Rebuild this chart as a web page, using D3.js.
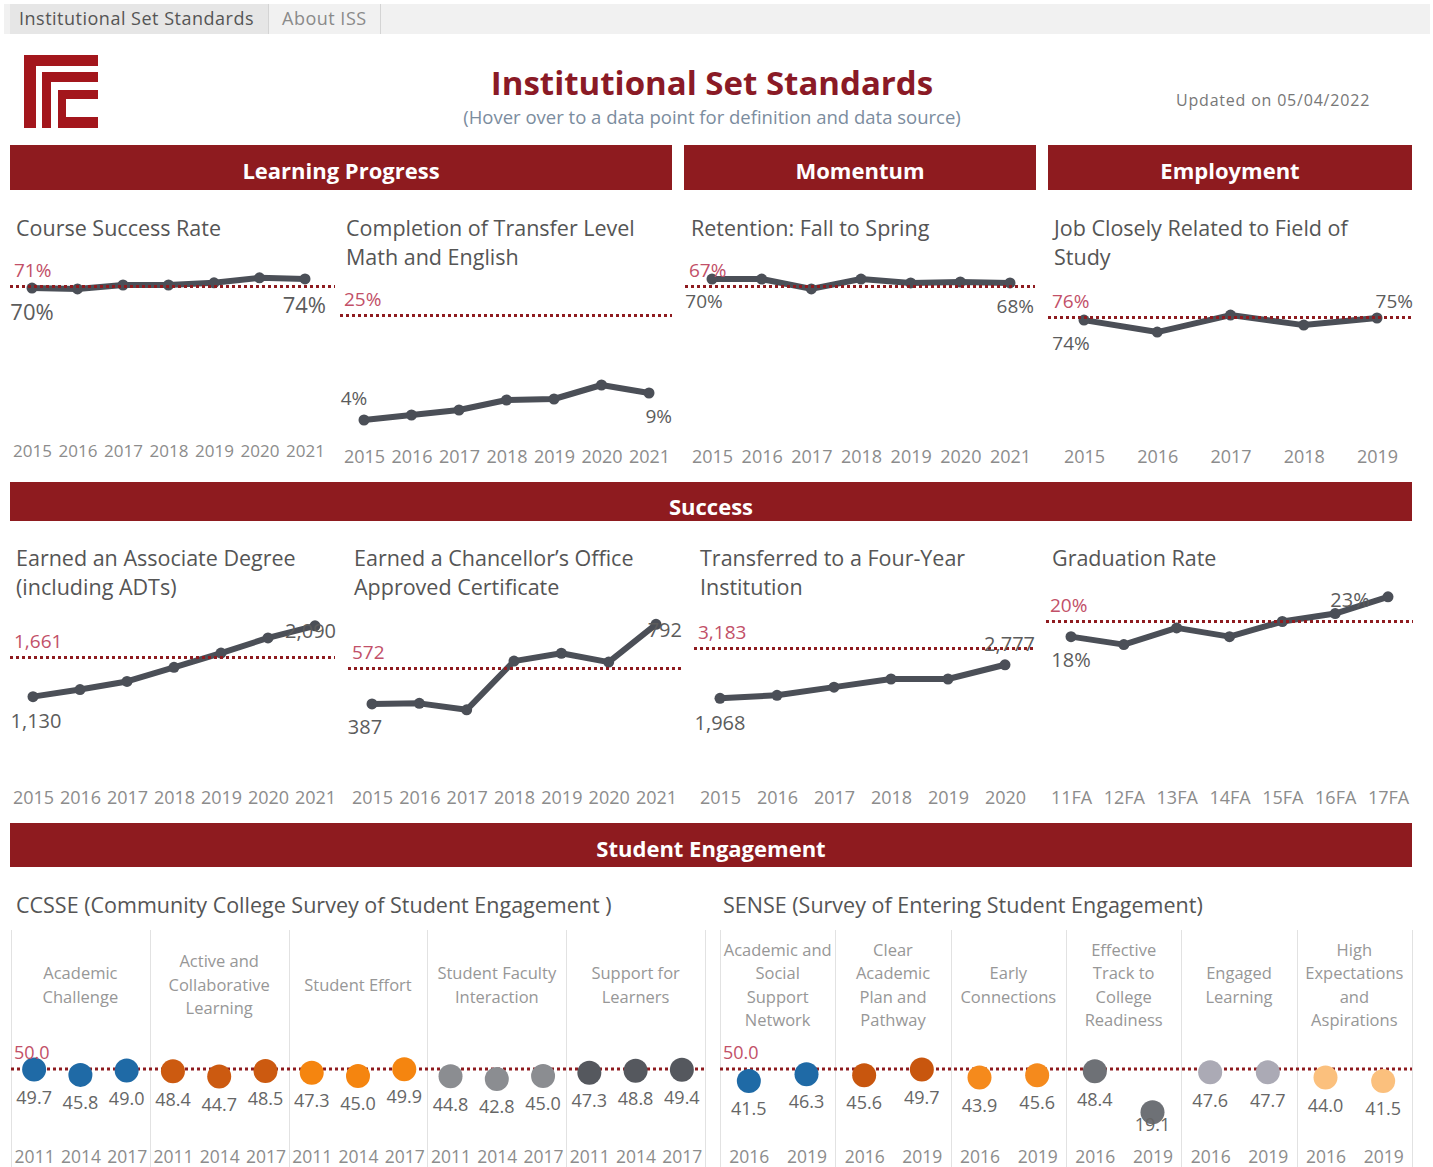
<!DOCTYPE html>
<html>
<head>
<meta charset="utf-8">
<script src="https://cdn.jsdelivr.net/npm/d3@7"></script>
<style>
body { margin: 0; background: #fff; }
svg { display: block; font-family: "Open Sans", sans-serif; }
</style>
</head>
<body>
<script>
// ---------- data ----------
const years7 = ["2015", "2016", "2017", "2018", "2019", "2020", "2021"]
const years6 = ["2015", "2016", "2017", "2018", "2019", "2020"]
const years5 = ["2015", "2016", "2017", "2018", "2019"]
const gradTerms = ["11FA", "12FA", "13FA", "14FA", "15FA", "16FA", "17FA"]

const courseSuccess = [0.700, 0.696, 0.714, 0.714, 0.724, 0.747, 0.742]
const transferMathEng = [0.04, 0.05, 0.06, 0.08, 0.082, 0.11, 0.094]
const retention = [0.70, 0.70, 0.657, 0.70, 0.683, 0.687, 0.683]
const jobRelated = [0.741, 0.667, 0.772, 0.71, 0.754]

const assocDegrees = [1130, 1226, 1336, 1528, 1720, 1926, 2090]
const certificates = [387, 390, 357, 605, 645, 600, 792]
const transfers = [1968, 2042, 2238, 2434, 2434, 2777]
const gradRate = [0.18, 0.17, 0.191, 0.18, 0.199, 0.209, 0.23]

// institution-set standards
const stdCourseSuccess = 0.71
const stdTransferMathEng = 0.25
const stdRetention = 0.67
const stdJobRelated = 0.76
const stdAssoc = 1661
const stdCert = 572
const stdTransfer = 3183
const stdGrad = 0.20

const ccsseYears = ["2011", "2014", "2017"]
const ccsseCats = ["Academic Challenge", "Active and Collaborative Learning", "Student Effort",
                   "Student Faculty Interaction", "Support for Learners"]
const ccsseValues = [
	[49.7, 45.8, 49.0],
	[48.4, 44.7, 48.5],
	[47.3, 45.0, 49.9],
	[44.8, 42.8, 45.0],
	[47.3, 48.8, 49.4]
]
const senseYears = ["2016", "2019"]
const senseCats = ["Academic and Social Support Network", "Clear Academic Plan and Pathway",
                   "Early Connections", "Effective Track to College Readiness",
                   "Engaged Learning", "High Expectations and Aspirations"]
const senseValues = [
	[41.5, 46.3],
	[45.6, 49.7],
	[43.9, 45.6],
	[48.4, 19.1],
	[47.6, 47.7],
	[44.0, 41.5]
]
const surveyStandard = 50.0

// ---------- styles ----------
const RED = "#8e1b1f"
const STD_TXT = "#c25068"
const LINE_C = "#4b4f57"
const TITLE_SIZE = 21.5
const pctFmt = d3.format(".0%")
const numFmt = d3.format(",")

var svg = d3.select("body").append("svg")
	.attr("width", 1433)
	.attr("height", 1167)

// tab bar
svg.append("rect").attr("x", 4).attr("y", 4).attr("width", 1426).attr("height", 30).attr("fill", "#f1f1f1")
svg.append("rect").attr("x", 10).attr("y", 4).attr("width", 258).attr("height", 30).attr("fill", "#e6e6e6")
svg.append("line").attr("x1", 268.5).attr("x2", 268.5).attr("y1", 4).attr("y2", 34).attr("stroke", "#d4d4d4")
svg.append("line").attr("x1", 380.5).attr("x2", 380.5).attr("y1", 4).attr("y2", 34).attr("stroke", "#d4d4d4")
svg.append("text").attr("x", 19).attr("y", 19).attr("dy", "0.35em")
	.attr("font-size", 18).attr("letter-spacing", 0.5).attr("fill", "#555").text("Institutional Set Standards")
svg.append("text").attr("x", 282).attr("y", 19).attr("dy", "0.35em")
	.attr("font-size", 18).attr("letter-spacing", 0.5).attr("fill", "#8a8a8a").text("About ISS")

// logo (FC)
var logo = svg.append("g").attr("fill", "#a3161c")
;[[24, 55, 74, 11], [24, 55, 12, 73], [42, 72, 56, 10], [42, 72, 9, 56],
  [58, 90, 40, 9], [58, 90, 8, 38], [58, 117, 40, 11]].forEach(function (r) {
	logo.append("rect").attr("x", r[0]).attr("y", r[1]).attr("width", r[2]).attr("height", r[3])
})

// header
svg.append("text").attr("x", 712).attr("y", 83).attr("dy", "0.35em").attr("text-anchor", "middle")
	.attr("font-size", 33).attr("font-weight", "bold").attr("fill", "#8a1a26")
	.text("Institutional Set Standards")
svg.append("text").attr("x", 712).attr("y", 118).attr("dy", "0.35em").attr("text-anchor", "middle")
	.attr("font-size", 18.5).attr("fill", "#7b8c9e")
	.text("(Hover over to a data point for definition and data source)")
svg.append("text").attr("x", 1176).attr("y", 100).attr("dy", "0.35em")
	.attr("font-size", 16).attr("letter-spacing", 0.8).attr("fill", "#777")
	.text("Updated on 05/04/2022")

// section banners
var banners = [
	{ name: "Learning Progress", x0: 10, x1: 672, y0: 145, y1: 190, ty: 171 },
	{ name: "Momentum", x0: 684, x1: 1036, y0: 145, y1: 190, ty: 171 },
	{ name: "Employment", x0: 1048, x1: 1412, y0: 145, y1: 190, ty: 171 },
	{ name: "Success", x0: 10, x1: 1412, y0: 482, y1: 521, ty: 507 },
	{ name: "Student Engagement", x0: 10, x1: 1412, y0: 823, y1: 867, ty: 849 }
]
banners.forEach(function (b) {
	svg.append("rect").attr("x", b.x0).attr("y", b.y0)
		.attr("width", b.x1 - b.x0).attr("height", b.y1 - b.y0).attr("fill", RED)
	svg.append("text").attr("x", (b.x0 + b.x1) / 2).attr("y", b.ty)
		.attr("dy", "0.35em").attr("text-anchor", "middle")
		.attr("font-size", 22).attr("font-weight", "bold").attr("fill", "#fff").text(b.name)
})

// ---------- line panels ----------
var row1 = { top: 262, bottom: 440, titleY: 228 }
var row2 = { top: 600, bottom: 780, titleY: 558 }

var panels = [
	{ row: row1, x0: 10, x1: 335, px: [32, 305], axisY: 451, axisSize: 17, labelSize: 22,
	  cats: years7, vals: courseSuccess, std: stdCourseSuccess, yMax: 0.82, fmt: pctFmt,
	  title: ["Course Success Rate"], first: [0, 24, "middle"], last: [21, 26, "end"] },
	{ row: row1, x0: 340, x1: 672, px: [364, 649], axisY: 457, axisSize: 18, labelSize: 19,
	  cats: years7, vals: transferMathEng, std: stdTransferMathEng, yMax: 0.356, fmt: pctFmt,
	  title: ["Completion of Transfer Level", "Math and English"], first: [-10, -22, "middle"], last: [23, 23, "end"] },
	{ row: row1, x0: 685, x1: 1035, px: [712, 1010], axisY: 457, axisSize: 18, labelSize: 19,
	  cats: years7, vals: retention, std: stdRetention, yMax: 0.774, fmt: pctFmt,
	  title: ["Retention: Fall to Spring"], first: [-8, 22, "middle"], last: [24, 23, "end"] },
	{ row: row1, x0: 1048, x1: 1413, px: [1084, 1377], axisY: 457, axisSize: 18, labelSize: 19,
	  cats: years5, vals: jobRelated, std: stdJobRelated, yMax: 1.10, fmt: pctFmt,
	  title: ["Job Closely Related to Field of", "Study"], first: [-13, 23, "middle"], last: [36, -17, "end"] },
	{ row: row2, x0: 10, x1: 335, px: [33, 315], axisY: 798, axisSize: 18, labelSize: 20,
	  cats: years7, vals: assocDegrees, std: stdAssoc, yMax: 2440, fmt: numFmt,
	  title: ["Earned an Associate Degree", "(including ADTs)"], first: [3, 24, "middle"], last: [21, 5, "end"] },
	{ row: row2, x0: 348, x1: 682, px: [372, 656], axisY: 798, axisSize: 18, labelSize: 20,
	  cats: years7, vals: certificates, std: stdCert, yMax: 916, fmt: numFmt,
	  title: ["Earned a Chancellor\u2019s Office", "Approved Certificate"], first: [-7, 23, "middle"], last: [26, 6, "end"] },
	{ row: row2, x0: 694, x1: 1035, px: [720, 1005], axisY: 798, axisSize: 18, labelSize: 20,
	  cats: years6, vals: transfers, std: stdTransfer, yMax: 4338, fmt: numFmt,
	  title: ["Transferred to a Four-Year", "Institution"], first: [0, 25, "middle"], last: [30, -21, "end"] },
	{ row: row2, x0: 1046, x1: 1413, px: [1071, 1388], axisY: 798, axisSize: 18, labelSize: 20,
	  cats: gradTerms, vals: gradRate, std: stdGrad, yMax: 0.226, fmt: pctFmt,
	  title: ["Graduation Rate"], first: [0, 23, "middle"], last: [-38, 3, "middle"] }
]

function renderPanel(p) {
	var g = svg.append("g")
	var x = d3.scalePoint().domain(p.cats).range(p.px)
	var y = d3.scaleLinear().domain([0, p.yMax]).range([p.row.bottom, p.row.top])

	p.title.forEach(function (t, i) {
		g.append("text").attr("x", p.x0 + 6).attr("y", p.row.titleY + i * 29).attr("dy", "0.35em")
			.attr("font-size", TITLE_SIZE).attr("fill", "#555").text(t)
	})

	var ax = g.append("g").attr("transform", "translate(0," + p.axisY + ")")
		.call(d3.axisBottom(x).tickSize(0).tickPadding(0))
	ax.attr("font-family", null).attr("font-size", null)
	ax.select(".domain").remove()
	ax.selectAll("text").attr("dy", "0.35em").attr("font-size", p.axisSize).attr("fill", "#8c8c8c")

	var data = p.cats.map(function (c, i) { return [c, p.vals[i]] })
	var line = d3.line()
		.x(function (d) { return x(d[0]) })
		.y(function (d) { return y(d[1]) })

	g.append("path").datum(data).attr("d", line)
		.attr("fill", "none").attr("stroke", LINE_C).attr("stroke-width", 6)
		.attr("stroke-linejoin", "round").attr("stroke-linecap", "round")
	g.selectAll("circle").data(data).enter().append("circle")
		.attr("cx", function (d) { return x(d[0]) })
		.attr("cy", function (d) { return y(d[1]) })
		.attr("r", 5.5).attr("fill", LINE_C)

	// standard line + label
	var sy = Math.round(y(p.std)) + 0.5
	g.append("line").attr("x1", p.x0).attr("x2", p.x1).attr("y1", sy).attr("y2", sy)
		.attr("stroke", RED).attr("stroke-width", 3).attr("stroke-dasharray", "3,3")
	g.append("text").attr("x", p.x0 + 4).attr("y", sy - 16).attr("dy", "0.35em")
		.attr("font-size", 19).attr("fill", STD_TXT).text(p.fmt(p.std))

	// first / last value labels
	var ends = [[data[0], p.first], [data[data.length - 1], p.last]]
	ends.forEach(function (e) {
		g.append("text")
			.attr("x", x(e[0][0]) + e[1][0]).attr("y", y(e[0][1]) + e[1][1])
			.attr("dy", "0.35em").attr("text-anchor", e[1][2])
			.attr("font-size", p.labelSize).attr("fill", "#5c5c5c").text(p.fmt(e[0][1]))
	})
}
panels.forEach(renderPanel)

// ---------- survey dot panels ----------
var dotY = d3.scaleLinear().domain([0, 50]).range([1139, 1069])

var surveys = [
	{ title: "CCSSE (Community College Survey of Student Engagement )", tx: 16, x0: 11, x1: 705,
	  cats: ccsseCats, years: ccsseYears, values: ccsseValues,
	  lines: [["Academic", "Challenge"], ["Active and", "Collaborative", "Learning"], ["Student Effort"],
	          ["Student Faculty", "Interaction"], ["Support for", "Learners"]],
	  colors: ["#1f6aa6", "#cc5a10", "#f5850f", "#8b8d91", "#55585e"] },
	{ title: "SENSE  (Survey of Entering Student Engagement)", tx: 723, x0: 720, x1: 1412,
	  cats: senseCats, years: senseYears, values: senseValues,
	  lines: [["Academic and", "Social", "Support", "Network"], ["Clear", "Academic", "Plan and", "Pathway"],
	          ["Early", "Connections"], ["Effective", "Track to", "College", "Readiness"],
	          ["Engaged", "Learning"], ["High", "Expectations", "and", "Aspirations"]],
	  colors: ["#1f6aa6", "#c8560e", "#f58a1c", "#6e7176", "#abaab5", "#fbc07d"] }
]

function renderSurvey(s) {
	var g = svg.append("g")
	g.append("text").attr("x", s.tx).attr("y", 905).attr("dy", "0.35em")
		.attr("font-size", TITLE_SIZE).attr("fill", "#555").text(s.title)

	var band = d3.scaleBand().domain(s.cats).range([s.x0, s.x1])
	var bw = band.bandwidth()
	var inner = d3.scalePoint().domain(s.years).range([0, bw]).padding(0.5)

	// column separators
	s.cats.concat([null]).forEach(function (c, i) {
		var lx = Math.round(s.x0 + i * bw) + 0.5
		g.append("line").attr("x1", lx).attr("x2", lx).attr("y1", 930).attr("y2", 1167)
			.attr("stroke", "#e2e2e2").attr("stroke-width", 1)
	})

	var sy = dotY(surveyStandard)
	s.cats.forEach(function (c, i) {
		var cx = band(c)
		var col = g.append("g").attr("transform", "translate(" + cx + ",0)")
		var ls = s.lines[i]
		ls.forEach(function (t, k) {
			col.append("text").attr("x", bw / 2).attr("y", 985 + (k - (ls.length - 1) / 2) * 23.5)
				.attr("dy", "0.35em").attr("text-anchor", "middle")
				.attr("font-size", 16.5).attr("fill", "#979797").text(t)
		})
		var ax = col.append("g").attr("transform", "translate(0,1157)")
			.call(d3.axisBottom(inner).tickSize(0).tickPadding(0))
		ax.attr("font-family", null).attr("font-size", null)
		ax.select(".domain").remove()
		ax.selectAll("text").attr("dy", "0.35em").attr("font-size", 17.5).attr("fill", "#8c8c8c")
	})

	g.append("line").attr("x1", s.x0).attr("x2", s.x1).attr("y1", sy).attr("y2", sy)
		.attr("stroke", RED).attr("stroke-width", 3).attr("stroke-dasharray", "3,3")

	s.cats.forEach(function (c, i) {
		var col = g.append("g").attr("transform", "translate(" + band(c) + ",0)")
		var data = s.years.map(function (yr, k) { return [yr, s.values[i][k]] })
		col.selectAll("circle").data(data).enter().append("circle")
			.attr("cx", function (d) { return inner(d[0]) })
			.attr("cy", function (d) { return dotY(d[1]) })
			.attr("r", 12).attr("fill", s.colors[i])
		col.selectAll("text.val").data(data).enter().append("text")
			.attr("class", "val")
			.attr("x", function (d) { return inner(d[0]) })
			.attr("y", function (d) { return Math.min(dotY(d[1]) + 28, 1125) })
			.attr("dy", "0.35em").attr("text-anchor", "middle")
			.attr("font-size", 18).attr("fill", "#666")
			.text(function (d) { return d3.format(".1f")(d[1]) })
	})

	g.append("text").attr("x", s.x0 + 3).attr("y", sy - 16).attr("dy", "0.35em")
		.attr("font-size", 18).attr("fill", STD_TXT).text(d3.format(".1f")(surveyStandard))
}
surveys.forEach(renderSurvey)
</script>
</body>
</html>
